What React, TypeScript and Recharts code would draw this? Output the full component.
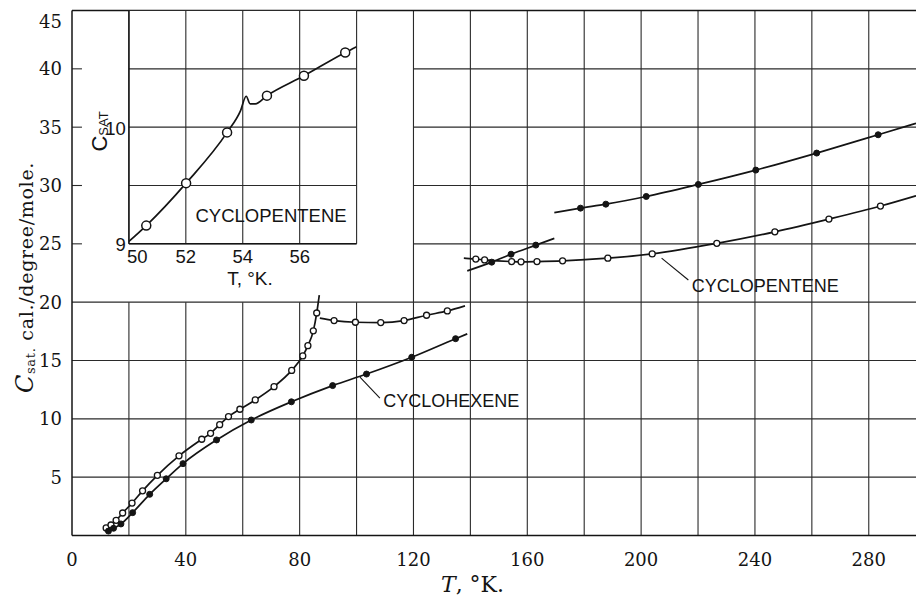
import React from 'react';
import { ComposedChart, Line, XAxis, YAxis, ReferenceLine, ReferenceDot, CartesianGrid } from 'recharts';

// ---------------- axes / grid values ----------------
const X_MAX = 296.6;
const xTicks = [0, 40, 80, 120, 160, 200, 240, 280];
const yTicks = [5, 10, 15, 20, 25, 30, 35, 40, 45];
const gridXLower = [20, 40, 60, 80, 100];
const gridXFull = [120, 140, 160, 180, 200, 220, 240, 260, 280];
const gridYFull = [5, 10, 15, 20];
const gridYRight = [25, 30, 35, 40];

// ---------------- Cyclopentene (open circles) ----------------
const cpCrysIIT = [12.0, 13.7, 15.5, 17.8, 21.1, 24.8, 30.0, 37.6, 45.6, 48.7, 51.9, 55.0, 59.0, 64.4, 71.0, 77.2, 81.1, 82.9, 84.8, 86.0];
const cpCrysIIC = [0.65, 0.9, 1.3, 1.93, 2.78, 3.83, 5.16, 6.83, 8.25, 8.76, 9.5, 10.19, 10.82, 11.62, 12.76, 14.15, 15.39, 16.27, 17.54, 19.07];
const cpCrysIILineT = [86.9];
const cpCrysIILineC = [20.6];

const cpCrysIT = [92.1, 99.6, 108.5, 116.7, 124.6, 131.9];
const cpCrysIC = [18.42, 18.28, 18.25, 18.42, 18.88, 19.25];
const cpCrysILineT = [87.1, 138.1];
const cpCrysILineC = [18.63, 19.68];

const cpLiqT = [141.9, 145.0, 154.5, 157.8, 163.4, 172.4, 188.3, 203.9, 226.6, 247.0, 266.0, 284.1];
const cpLiqC = [23.69, 23.62, 23.48, 23.46, 23.48, 23.54, 23.77, 24.14, 25.04, 26.03, 27.12, 28.24];
const cpLiqLineT = [137.7, 296.6];
const cpLiqLineC = [23.77, 29.12];

// ---------------- Cyclohexene (filled circles) ----------------
const chCrysIIT = [12.8, 14.6, 17.2, 21.3, 27.3, 33.1, 39.0, 50.8, 63.0, 77.1, 91.6, 103.5, 119.4, 134.8];
const chCrysIIC = [0.38, 0.62, 0.99, 1.96, 3.53, 4.86, 6.16, 8.19, 9.9, 11.46, 12.85, 13.84, 15.28, 16.87];
const chCrysIILineT = [138.9];
const chCrysIILineC = [17.28];

const chCrysIT = [147.5, 154.3, 163.0];
const chCrysIC = [23.43, 24.11, 24.89];
const chCrysILineT = [138.9, 169.5];
const chCrysILineC = [22.68, 25.47];

const chLiqT = [178.7, 187.6, 201.8, 220.1, 240.3, 261.7, 283.3];
const chLiqC = [28.06, 28.4, 29.06, 30.09, 31.32, 32.78, 34.35];
const chLiqLineT = [169.5, 296.6];
const chLiqLineC = [27.68, 35.33];

// ---------------- Inset: cyclopentene 50-58 K ----------------
const insetXTicks = [50, 52, 54, 56, 58];
const insetYTicks = [9, 9.5, 10, 10.5, 11];
const insetT = [50.61, 52.01, 53.45, 54.85, 56.15, 57.6];
const insetC = [9.156, 9.52, 9.955, 10.27, 10.44, 10.64];
const insetLineT = [50.0, 53.92, 54.12, 54.26, 54.44, 58.0];
const insetLineC = [9.02, 10.14, 10.265, 10.2, 10.2, 10.69];

// ---------------- helpers ----------------
type P = { T: number; C: number };
const pts = (T: number[], C: number[]): P[] => T.map((t, i) => ({ T: t, C: C[i] }));
const curve = (T: number[], C: number[], LT: number[], LC: number[]): P[] =>
  [...pts(T, C), ...pts(LT, LC)].sort((a, b) => a.T - b.T);

const INK = '#141414';
const GRID = '#2a2a2a';
const SERIF = "'DejaVu Serif', serif";
const SANS = "'Liberation Sans', Arial, sans-serif";

const openDot = { r: 3, fill: '#fff', stroke: INK, strokeWidth: 1.3 };
const solidDot = { r: 3, fill: INK, stroke: INK, strokeWidth: 1 };

const MainYTick = (props: any) => {
  const { x, y, payload } = props;
  const shift = payload.value === 45 ? 11 : 0;
  return (
    <text x={x} y={y + shift} dy="0.36em" textAnchor="end" fontFamily={SERIF} fontSize={18} fill={INK}>
      {payload.value}
    </text>
  );
};

const InsetXTick = (props: any) => {
  const { x, y, payload } = props;
  const v = payload.value;
  if (v === 58) return <g />;
  return (
    <text x={v === 50 ? x - 2 : x} y={y} dy="0.72em" textAnchor={v === 50 ? 'start' : 'middle'} fontFamily={SANS} fontSize={18.5} fill={INK}>
      {v}
    </text>
  );
};

const InsetYTick = (props: any) => {
  const { x, y, payload } = props;
  const v = payload.value;
  if (v !== 9 && v !== 10) return <g />;
  return (
    <text x={x} y={y + 1} dy="0.36em" textAnchor="end" fontFamily={SANS} fontSize={18.5} fill={INK}>
      {v}
    </text>
  );
};

const textShape = (text: string, size: number) => (p: any) => (
  <text x={p.cx} y={p.cy} fontFamily={SANS} fontSize={size} fill={INK}>
    {text}
  </text>
);

const gridLine = { stroke: GRID, strokeWidth: 1.1, ifOverflow: 'visible' as const };

export default function App() {
  return (
    <div style={{ position: 'absolute', left: 0, top: 0, width: 916, height: 596, background: '#fff' }}>
      {/* main chart */}
      <div style={{ position: 'absolute', left: 0, top: 0 }}>
        <ComposedChart width={916} height={596} margin={{ top: 10.5, right: 0, bottom: 30.5, left: 12 }}>
          <XAxis
            type="number"
            dataKey="T"
            domain={[0, X_MAX]}
            ticks={xTicks}
            interval={0}
            allowDataOverflow
            height={30}
            tickLine={false}
            tickSize={0}
            tickMargin={18}
            axisLine={{ stroke: INK, strokeWidth: 1.5 }}
            tick={{ fontFamily: SERIF, fontSize: 18, fill: INK }}
          />
          <YAxis
            type="number"
            domain={[0, 45]}
            ticks={yTicks}
            interval={0}
            allowDataOverflow
            width={60}
            tickLine={false}
            tickSize={0}
            tickMargin={10}
            axisLine={{ stroke: INK, strokeWidth: 1.5 }}
            tick={<MainYTick />}
          />
          {gridXLower.map((x) => (
            <ReferenceLine key={'gxl' + x} segment={[{ x, y: 0 }, { x, y: 20 }]} {...gridLine} />
          ))}
          {gridXFull.map((x) => (
            <ReferenceLine key={'gxf' + x} x={x} {...gridLine} />
          ))}
          {gridYFull.map((y) => (
            <ReferenceLine key={'gyf' + y} y={y} {...gridLine} />
          ))}
          {gridYRight.map((y) => (
            <ReferenceLine key={'gyr' + y} segment={[{ x: 120, y }, { x: X_MAX, y }]} {...gridLine} />
          ))}
          {gridYRight.map((y) => (
            <ReferenceLine key={'gyt' + y} segment={[{ x: 0, y }, { x: 3.5, y }]} {...gridLine} />
          ))}
          <ReferenceLine y={45} stroke={INK} strokeWidth={1.5} ifOverflow="visible" />

          {/* leader lines */}
          <ReferenceLine segment={[{ x: 101.2, y: 13.57 }, { x: 108.2, y: 11.77 }]} stroke={INK} strokeWidth={1.1} ifOverflow="visible" />
          <ReferenceLine segment={[{ x: 207.2, y: 23.77 }, { x: 216.6, y: 21.9 }]} stroke={INK} strokeWidth={1.1} ifOverflow="visible" />
          <ReferenceDot x={109.4} y={11.05} r={0} shape={textShape('CYCLOHEXENE', 18)} ifOverflow="visible" />
          <ReferenceDot x={217.8} y={20.91} r={0} shape={textShape('CYCLOPENTENE', 18)} ifOverflow="visible" />

          {/* curves */}
          <Line data={curve(cpCrysIIT, cpCrysIIC, cpCrysIILineT, cpCrysIILineC)} dataKey="C" type="monotone" stroke={INK} strokeWidth={1.7} dot={false} isAnimationActive={false} />
          <Line data={curve(cpCrysIT, cpCrysIC, cpCrysILineT, cpCrysILineC)} dataKey="C" type="monotone" stroke={INK} strokeWidth={1.7} dot={false} isAnimationActive={false} />
          <Line data={curve(cpLiqT, cpLiqC, cpLiqLineT, cpLiqLineC)} dataKey="C" type="monotone" stroke={INK} strokeWidth={1.7} dot={false} isAnimationActive={false} />
          <Line data={curve(chCrysIIT, chCrysIIC, chCrysIILineT, chCrysIILineC)} dataKey="C" type="monotone" stroke={INK} strokeWidth={1.7} dot={false} isAnimationActive={false} />
          <Line data={curve(chCrysIT, chCrysIC, chCrysILineT, chCrysILineC)} dataKey="C" type="monotone" stroke={INK} strokeWidth={1.7} dot={false} isAnimationActive={false} />
          <Line data={curve(chLiqT, chLiqC, chLiqLineT, chLiqLineC)} dataKey="C" type="monotone" stroke={INK} strokeWidth={1.7} dot={false} isAnimationActive={false} />

          {/* markers */}
          <Line data={pts(cpCrysIIT, cpCrysIIC)} dataKey="C" stroke="none" dot={openDot} isAnimationActive={false} />
          <Line data={pts(cpCrysIT, cpCrysIC)} dataKey="C" stroke="none" dot={openDot} isAnimationActive={false} />
          <Line data={pts(cpLiqT, cpLiqC)} dataKey="C" stroke="none" dot={openDot} isAnimationActive={false} />
          <Line data={pts(chCrysIIT, chCrysIIC)} dataKey="C" stroke="none" dot={solidDot} isAnimationActive={false} />
          <Line data={pts(chCrysIT, chCrysIC)} dataKey="C" stroke="none" dot={solidDot} isAnimationActive={false} />
          <Line data={pts(chLiqT, chLiqC)} dataKey="C" stroke="none" dot={solidDot} isAnimationActive={false} />
        </ComposedChart>
      </div>

      {/* inset chart */}
      <div style={{ position: 'absolute', left: 0, top: 0 }}>
        <ComposedChart width={916} height={596} margin={{ top: 10.5, right: 559.4, bottom: 322.2, left: 88.9 }}>
          <CartesianGrid stroke={GRID} strokeWidth={1.1} fill="#fff" fillOpacity={1} />
          <XAxis
            type="number"
            dataKey="T"
            domain={[50, 58]}
            ticks={insetXTicks}
            interval={0}
            allowDataOverflow
            height={30}
            tickLine={false}
            tickSize={0}
            tickMargin={6}
            axisLine={{ stroke: INK, strokeWidth: 1.4 }}
            tick={<InsetXTick />}
          />
          <YAxis
            type="number"
            domain={[9, 11]}
            ticks={insetYTicks}
            interval={0}
            allowDataOverflow
            width={40}
            tickLine={false}
            tickSize={0}
            tickMargin={3}
            axisLine={{ stroke: INK, strokeWidth: 1.4 }}
            tick={<InsetYTick />}
          />
          <ReferenceDot x={52.34} y={9.19} r={0} shape={textShape('CYCLOPENTENE', 18.5)} ifOverflow="visible" />
          <Line data={curve(insetT, insetC, insetLineT, insetLineC)} dataKey="C" type="monotone" stroke={INK} strokeWidth={1.7} dot={false} isAnimationActive={false} />
          <Line data={pts(insetT, insetC)} dataKey="C" stroke="none" dot={{ r: 4.5, fill: '#fff', stroke: INK, strokeWidth: 1.5 }} isAnimationActive={false} />
        </ComposedChart>
      </div>

      {/* axis titles */}
      <svg width={916} height={596} style={{ position: 'absolute', left: 0, top: 0, pointerEvents: 'none' }}>
        <text transform="translate(33,277.5) rotate(-90)" textAnchor="middle" fontFamily={SERIF} fontSize={19} letterSpacing={0.7} fill={INK}>
          <tspan fontStyle="italic" fontSize={24}>C</tspan>
          <tspan fontSize={13} dy={2}>sat.</tspan>
          <tspan dy={-2}> cal./degree/mole.</tspan>
        </text>
        <text x={472.5} y={592} textAnchor="middle" fontFamily={SERIF} fontSize={22} fill={INK}>
          <tspan fontStyle="italic">T</tspan>, °K.
        </text>
        <text x={250} y={285} textAnchor="middle" fontFamily={SANS} fontSize={19} fill={INK}>
          T, °K.
        </text>
        <text transform="translate(107,131.5) rotate(-90)" textAnchor="middle" fontFamily={SANS} fontSize={22} fill={INK}>
          <tspan>C</tspan>
          <tspan fontSize={13} dy={1}>SAT</tspan>
        </text>
      </svg>
    </div>
  );
}
